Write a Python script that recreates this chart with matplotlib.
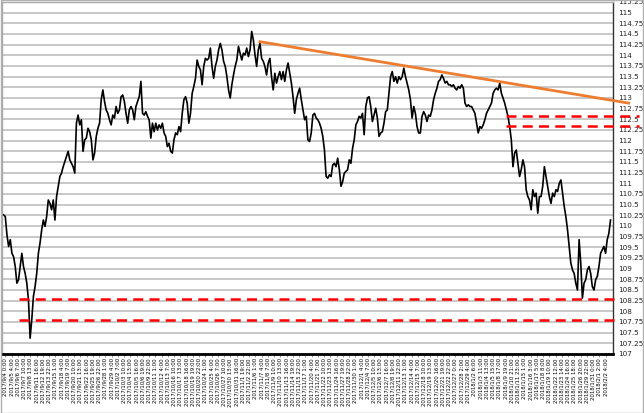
import matplotlib
matplotlib.use('Agg')
import matplotlib.pyplot as plt
from matplotlib.patches import Rectangle
import numpy as np

price_sep_oct = [
    110.26, 110.22, 109.79, 109.52, 109.68, 109.36, 109.28, 109.05, 108.66, 108.74,
    109.05, 109.36, 109.05, 108.89, 108.66, 108.27, 107.37, 107.80, 108.35, 108.58,
    108.89, 109.36, 109.60, 109.91, 110.14, 109.99, 110.22, 110.61, 110.53, 110.38,
    110.61, 110.14, 110.69, 110.93, 111.16, 111.24, 111.39, 111.51, 111.63, 111.75,
    111.55, 111.47, 111.39, 111.24, 112.41, 112.60, 112.37, 112.49, 111.75, 112.02,
    112.06, 112.29, 112.21, 112.02, 111.55, 111.71, 112.10, 112.29, 112.41, 112.96,
    113.19, 112.92, 112.72, 112.64, 112.49, 112.37, 112.60, 112.53, 112.80, 112.64,
    112.72, 113.03, 113.07, 112.92, 112.64, 112.41, 112.72, 112.80, 112.72, 112.49,
    112.80, 112.92, 113.03, 113.39, 112.64, 112.60, 112.68, 112.57, 112.49, 112.06,
    112.41, 112.21, 112.41, 112.25, 112.37, 112.29, 112.41,
]
price_oct_nov = [
    112.18, 112.10, 111.86, 111.94, 111.75, 111.71, 112.02, 112.18, 112.14, 112.33,
    112.21, 112.64, 112.96, 113.03, 112.88, 112.41, 112.64, 113.11, 113.27, 113.46,
    113.89, 113.74, 113.66, 113.31, 113.74, 113.93, 113.89, 113.93, 114.17, 113.74,
    113.46, 113.74, 113.89, 114.13, 114.28, 114.13, 113.86, 113.74, 113.50, 113.19,
    113.00, 113.31, 113.54, 113.74, 113.89, 114.21, 114.05, 113.89, 114.05, 114.01,
    114.17, 113.97, 114.13, 114.56, 114.36, 114.01, 113.74, 114.13, 114.28, 113.93,
    113.86, 113.74, 113.54, 113.82, 113.93, 113.50, 113.19, 113.58, 113.35, 113.50,
    113.62, 113.43, 113.62, 113.39, 113.66, 113.82, 113.58, 113.35, 113.03, 112.64,
    112.96, 113.11, 113.23, 112.96, 112.72, 112.49, 112.57, 112.02, 111.98, 112.18,
    112.60, 112.64, 112.53,
]
price_nov_dec = [
    112.49, 112.41, 112.29, 112.10, 111.78, 111.16, 111.12, 111.20, 111.16, 111.43,
    111.47, 111.39, 111.59, 111.32, 110.93, 111.04, 111.24, 111.28, 111.32, 111.55,
    111.47, 111.82, 112.02, 112.37, 112.45, 112.57, 112.53, 112.64, 112.14, 112.80,
    113.00, 113.03, 112.80, 112.45, 112.60, 112.76, 112.53, 112.10, 112.18, 112.21,
    112.41, 112.68, 112.72, 113.11, 113.50, 113.62, 113.39, 113.50, 113.35, 113.50,
    113.43, 113.50, 113.70, 113.50, 113.35, 113.19, 112.96, 112.53, 112.80, 112.64,
    112.33, 112.18, 112.18, 112.57, 112.68, 112.60, 112.45, 112.60, 112.57, 112.72,
    112.96, 113.11, 113.23, 113.39, 113.43, 113.54, 113.46, 113.35, 113.39, 113.31,
    113.31, 113.27, 113.31, 113.23, 113.19, 113.27, 113.23, 113.31, 113.23, 112.88,
    112.80, 112.84, 112.80,
]
price_dec_feb = [
    112.80, 112.72, 112.64, 112.41, 112.18, 112.33, 112.29, 112.37, 112.49, 112.64,
    112.72, 112.80, 112.88, 113.11, 113.19, 113.23, 113.19, 113.35, 113.11, 113.00,
    112.88, 112.72, 112.57, 112.33, 112.02, 111.39, 111.71, 111.78, 111.47, 111.16,
    111.32, 111.55, 111.39, 110.85, 110.69, 110.61, 110.38, 110.85, 110.69, 110.77,
    110.30, 110.69, 110.69, 110.93, 111.39, 111.16, 110.93, 110.69, 110.53, 110.77,
    110.69, 110.85, 110.81, 111.00, 111.08, 110.77, 110.46, 110.22, 109.91, 109.52,
    109.13, 108.97, 108.89, 108.66, 108.50, 109.68, 109.13, 108.31, 108.66, 108.74,
    108.97, 109.05, 108.89, 108.58, 108.50, 108.74, 108.82, 109.05, 109.36, 109.44,
    109.52, 109.36, 109.68, 109.83, 110.14,
]
price = price_sep_oct + price_oct_nov + price_nov_dec + price_dec_feb

x_labels = [
    "2017/9/4 0:00", "2017/9/5 4:00", "2017/9/6 7:00", "2017/9/7 10:00", "2017/9/8 13:00",
    "2017/9/11 16:00", "2017/9/12 19:00", "2017/9/13 22:00", "2017/9/15 1:00", "2017/9/18 4:00",
    "2017/9/19 7:00", "2017/9/20 10:00", "2017/9/21 13:00", "2017/9/22 16:00", "2017/9/25 19:00",
    "2017/9/26 22:00", "2017/9/28 1:00", "2017/9/29 4:00", "2017/10/2 7:00", "2017/10/3 10:00",
    "2017/10/4 13:00", "2017/10/5 16:00", "2017/10/6 19:00", "2017/10/9 22:00", "2017/10/11 1:00",
    "2017/10/12 4:00", "2017/10/13 7:00", "2017/10/16 10:00", "2017/10/17 13:00", "2017/10/18 16:00",
    "2017/10/19 19:00", "2017/10/20 22:00", "2017/10/24 1:00", "2017/10/25 4:00", "2017/10/26 7:00",
    "2017/10/27 10:00", "2017/10/30 13:00", "2017/10/31 16:00", "2017/11/1 19:00", "2017/11/2 22:00",
    "2017/11/6 1:00", "2017/11/7 4:00", "2017/11/8 7:00", "2017/11/9 10:00", "2017/11/10 13:00",
    "2017/11/13 16:00", "2017/11/14 19:00", "2017/11/15 22:00", "2017/11/17 1:00", "2017/11/20 4:00",
    "2017/11/21 7:00", "2017/11/22 10:00", "2017/11/23 13:00", "2017/11/24 16:00", "2017/11/27 19:00",
    "2017/11/28 22:00", "2017/11/30 1:00", "2017/12/1 4:00", "2017/12/4 7:00", "2017/12/5 10:00",
    "2017/12/6 13:00", "2017/12/7 16:00", "2017/12/8 19:00", "2017/12/11 22:00", "2017/12/13 1:00",
    "2017/12/14 4:00", "2017/12/15 7:00", "2017/12/18 10:00", "2017/12/19 13:00", "2017/12/20 16:00",
    "2017/12/21 19:00", "2017/12/22 22:00", "2017/12/27 0:00", "2017/12/28 2:00", "2017/12/29 4:00",
    "2018/1/2 6:00", "2018/1/3 11:00", "2018/1/4 13:00", "2018/1/5 15:00", "2018/1/8 17:00",
    "2018/1/9 19:00", "2018/1/10 21:00", "2018/1/11 23:00", "2018/1/15 1:00", "2018/1/16 3:00",
    "2018/1/17 5:00", "2018/1/18 8:00", "2018/1/19 10:00", "2018/1/22 12:00", "2018/1/23 14:00",
    "2018/1/24 16:00", "2018/1/25 18:00", "2018/1/26 20:00", "2018/1/29 22:00", "2018/1/31 0:00",
    "2018/2/1 2:00", "2018/2/2 4:00",
]

# annotation levels
support_levels = [107.80, 108.30]
support_span = [9, 372]
resistance_levels = [112.35, 112.57]
resistance_span = [304, 384]
trend_idx = [155, 378]
trend_price = [114.32, 112.88]

y_min, y_max, y_step = 107.0, 115.25, 0.25

fig = plt.figure(figsize=(6.44, 4.13), dpi=100)
fig.patch.set_facecolor('white')
ax = fig.add_axes([2 / 644, 1 - 354 / 413, 611 / 644, 352 / 413])

xs = np.arange(len(price))
ax.plot(xs, price, color='black', lw=1.2, zorder=3)

ax.set_xlim(-1, len(price) + 0.5)
ax.set_ylim(y_min, y_max)

yt = np.arange(y_min, y_max + 1e-9, y_step)
ax.set_yticks(yt)
ax.set_yticklabels([f'{v:g}' for v in yt])
ax.yaxis.tick_right()
ax.tick_params(axis='y', length=0, pad=4, labelsize=5.2, labelcolor='#222222')
ax.yaxis.grid(True, color='#c4c4c4', lw=1.3, zorder=0)
ax.set_axisbelow(True)

tick_pos = np.linspace(1, len(price) - 4, len(x_labels))
ax.set_xticks(tick_pos)
ax.set_xticklabels(x_labels, rotation=90, fontsize=3.9)
ax.tick_params(axis='x', length=2, width=0.6, color='#888888', pad=1.0)

for s in ['left', 'top']:
    ax.spines[s].set_color('#aaaaaa')
    ax.spines[s].set_linewidth(1.0)
ax.spines['right'].set_color('#333333')
ax.spines['right'].set_linewidth(1.0)
ax.spines['bottom'].set_color('black')
ax.spines['bottom'].set_linewidth(2.0)

for lv in support_levels:
    ax.plot(support_span, [lv, lv], color='#ff0000', lw=1.8, ls=(0, (4, 2.5)),
            clip_on=False, zorder=4)
for lv in resistance_levels:
    ax.plot(resistance_span, [lv, lv], color='#ff0000', lw=1.8, ls=(0, (4, 2.5)),
            clip_on=False, zorder=4)
ax.plot(trend_idx, trend_price, color='#ed7d31', lw=2.0, clip_on=False, zorder=4)

# thin outer frame like the screenshot border
fig.patches.append(Rectangle((0.0008, 0.0012), 0.9984, 0.9976, transform=fig.transFigure,
                             fill=False, edgecolor='#b0b0b0', lw=1.0))

fig.savefig('out.png', dpi=100)
